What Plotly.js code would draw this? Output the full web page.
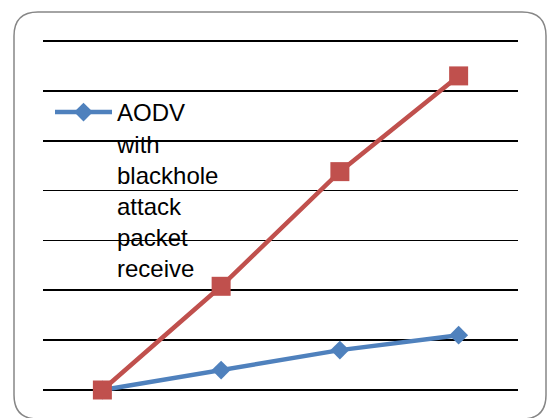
<!DOCTYPE html>
<html>
<head>
<meta charset="utf-8">
<script src="https://cdn.plot.ly/plotly-3.0.1.min.js"></script>
<style>html,body{margin:0;padding:0;background:#fff;}#chart{width:547px;height:418px;}</style>
</head>
<body>
<div id="chart"></div>
<script>
var categories = ["1", "2", "3", "4"];
var blackholeReceive = [0, 20, 40, 55];
var otherSeries = [0, 104, 219, 315];
var seriesName = "AODV<br>with<br>blackhole<br>attack<br>packet<br>receive";

// value grid spans pixels 41 (350) .. 390 (0); plot area padded by 3px so edge gridlines draw
var GT = 41, GB = 390, PAD = 3;
var PL = 43, PR = 518, PT = GT - PAD, PB = GB + PAD;
var perPx = 350 / (GB - GT);
var yMin = -PAD * perPx, yMax = 350 + PAD * perPx;
var W = PR - PL, H = PB - PT;
function px(x){ return (x - PL) / W; }
function py(y){ return (PB - y) / H; }
var bL = px(14), bR = px(546), bT = py(12), bB = py(419), rx = 24 / W, ry = 24 / H;
var borderPath = 'M' + (bL + rx) + ',' + bT + ' L' + (bR - rx) + ',' + bT +
  ' Q' + bR + ',' + bT + ' ' + bR + ',' + (bT - ry) + ' L' + bR + ',' + (bB + ry) +
  ' Q' + bR + ',' + bB + ' ' + (bR - rx) + ',' + bB + ' L' + (bL + rx) + ',' + bB +
  ' Q' + bL + ',' + bB + ' ' + bL + ',' + (bB + ry) + ' L' + bL + ',' + (bT - ry) +
  ' Q' + bL + ',' + bT + ' ' + (bL + rx) + ',' + bT + ' Z';

var traces = [
  {
    x: categories, y: blackholeReceive, type: 'scatter', mode: 'lines+markers',
    name: seriesName, cliponaxis: false,
    line: {color: '#4F81BD', width: 4.5},
    marker: {symbol: 'diamond', size: 14.5, color: '#4F81BD'}
  },
  {
    x: categories, y: otherSeries, type: 'scatter', mode: 'lines+markers',
    name: 'series 2', showlegend: false, cliponaxis: false,
    line: {color: '#C0504D', width: 4.5},
    marker: {symbol: 'square', size: 19, color: '#C0504D'}
  }
];

var layout = {
  width: 547, height: 418,
  margin: {l: PL, r: 547 - PR, t: PT, b: 418 - PB, pad: 0},
  paper_bgcolor: '#ffffff', plot_bgcolor: 'rgba(0,0,0,0)',
  font: {family: 'Liberation Sans, Arial, sans-serif', color: '#000000'},
  xaxis: {type: 'category', range: [-0.5, 3.5], showgrid: false, showticklabels: false,
          zeroline: false, showline: false, ticks: '', fixedrange: true},
  yaxis: {range: [yMin, yMax], dtick: 50, tick0: 0, showgrid: true, gridcolor: '#000000', gridwidth: 1.75,
          showticklabels: false, zeroline: false, showline: false, ticks: '', fixedrange: true},
  showlegend: true,
  legend: {x: px(50), y: py(90), xanchor: 'left', yanchor: 'top', bgcolor: 'rgba(0,0,0,0)',
           font: {size: 24, family: 'Liberation Sans, Arial, sans-serif', color: '#000000'},
           itemwidth: 57, valign: 'top', tracegroupgap: 0},
  shapes: [{type: 'path', xref: 'paper', yref: 'paper', path: borderPath,
            line: {color: '#868686', width: 1.5}, fillcolor: 'rgba(0,0,0,0)', layer: 'above'}]
};

Plotly.newPlot('chart', traces, layout, {displayModeBar: false, staticPlot: true});
</script>
</body>
</html>
